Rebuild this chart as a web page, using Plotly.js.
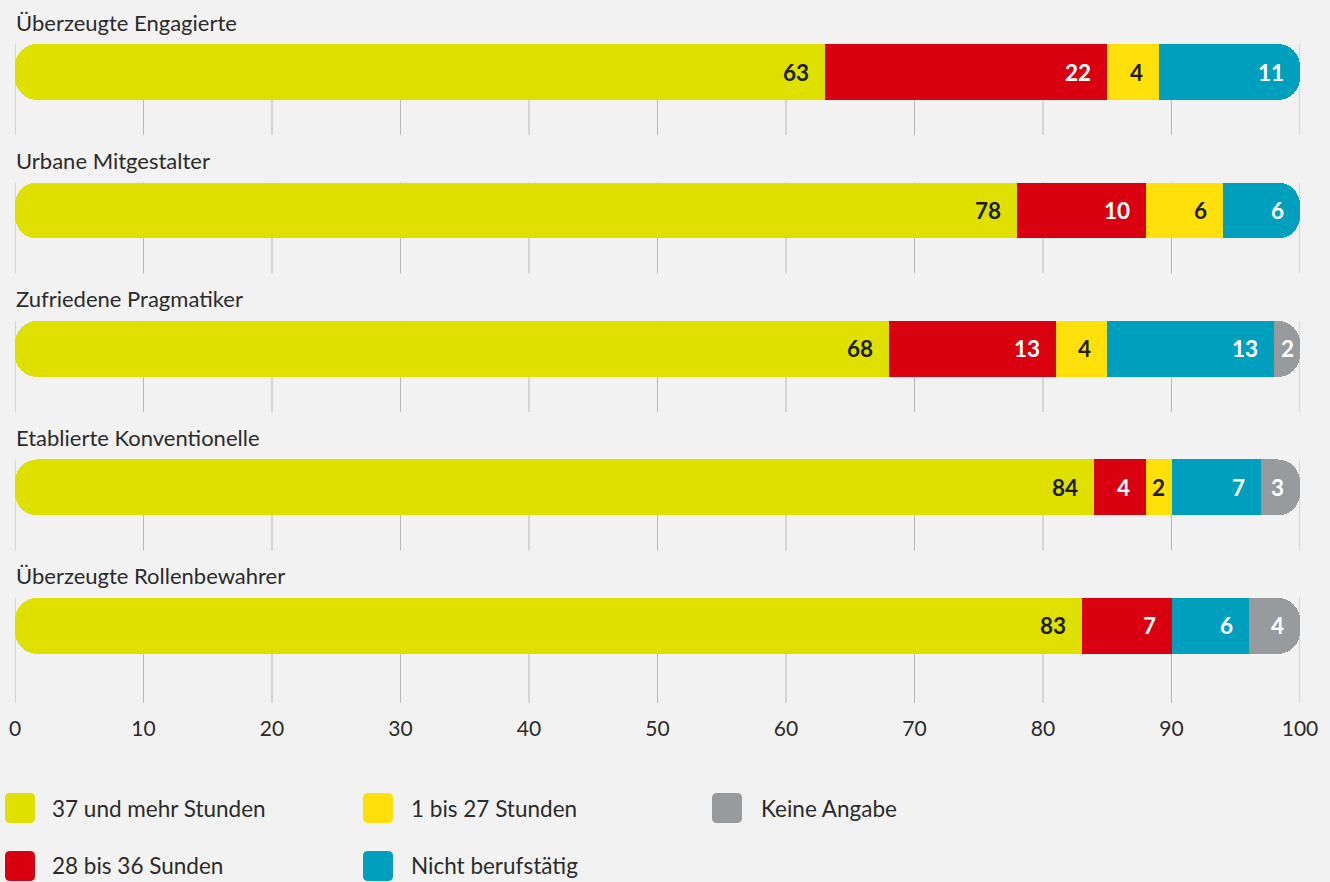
<!DOCTYPE html>
<html><head><meta charset="utf-8">
<script src="https://cdn.plot.ly/plotly-3.0.1.min.js"></script>
<style>html,body{margin:0;padding:0;background:#f2f2f2;} #chart{width:1330px;height:882px;}</style>
</head><body><div id="chart"></div>
<script>
// ---- data ----
const categories = ["Überzeugte Engagierte","Urbane Mitgestalter","Zufriedene Pragmatiker","Etablierte Konventionelle","Überzeugte Rollenbewahrer"];
const seriesNames = ["37 und mehr Stunden","28 bis 36 Sunden","1 bis 27 Stunden","Nicht berufstätig","Keine Angabe"];
const s37 = [63,78,68,84,83];
const s28 = [22,10,13,4,7];
const s1to27 = [4,6,4,2,0];
const sNicht = [11,6,13,7,6];
const sKeine = [0,0,2,3,4];
const xTicks = [0,10,20,30,40,50,60,70,80,90,100];

// ---- styles ----
const colors = ["#e0e000","#d9000f","#ffe00b","#009fbe","#989b9e"];
const labelColors = ["#1d1d1b","#ffffff","#1d1d1b","#ffffff","#ffffff"];
const FONT = "Lato, 'Open Sans', sans-serif";
const series = [s37, s28, s1to27, sNicht, sKeine];

const L = 15, PW = 1285, PH = 709;
const pxX = p => (p - L) / PW;
const pxY = p => (PH - p) / PH;

const traces = [];
// left rounded end: yellow drawn on reversed overlay axis
traces.push({type:'bar', orientation:'h', y:categories, x:s37.map(v=>100-v), xaxis:'x2', yaxis:'y',
  marker:{color:'rgba(0,0,0,0)'}, hoverinfo:'skip', showlegend:false});
traces.push({type:'bar', orientation:'h', y:categories, x:s37, xaxis:'x2', yaxis:'y',
  marker:{color:colors[0]}, name:seriesNames[0], showlegend:false});
// main stack
series.forEach((s,k)=>{
  traces.push({type:'bar', orientation:'h', y:categories, x:s, xaxis:'x', yaxis:'y',
    marker:{color: k===0 ? 'rgba(0,0,0,0)' : colors[k]}, name:seriesNames[k], showlegend:false,
    hoverinfo: k===0 ? 'skip' : 'x+name'});
});

const annotations = [];
const shapes = [];
// value labels
categories.forEach((c,i)=>{
  let cum = 0;
  series.forEach((s,k)=>{
    const v = s[i];
    cum += v;
    if (v <= 0) return;
    const small = v <= 2;
    annotations.push({x: small ? cum - v/2 : cum, y: c, xref:'x', yref:'y',
      xanchor: small ? 'center' : 'right', xshift: small ? 0 : -14, yanchor:'middle',
      text: String(v), showarrow:false,
      font:{family:FONT, size:22.5, color:labelColors[k], weight:700}});
  });
  // category label
  annotations.push({x:0, y:c, xref:'x', yref:'y', xanchor:'left', yanchor:'middle', xshift:-1, yshift:50,
    text:c, showarrow:false, font:{family:FONT, size:22, color:'#2b2b2b'}});
  // grid segments
  xTicks.forEach(t=>{
    shapes.push({type:'line', layer:'below', xref:'x', yref:'y', x0:t, x1:t,
      y0:i-0.202, y1: i + (i===categories.length-1 ? 0.556 : 0.455),
      line:{color:'#b8b8b8', width:1}});
  });
});

// custom legend (column-major, 2 rows)
const colSwatchX = [20, 378, 727];
const colTextLeft = [51, 410, 760];
const rowY = [808, 866];
const rr = "M -10,-15 L 10,-15 Q 15,-15 15,-10 L 15,10 Q 15,15 10,15 L -10,15 Q -15,15 -15,10 L -15,-10 Q -15,-15 -10,-15 Z";
seriesNames.forEach((n,k)=>{
  const col = Math.floor(k/2), row = k%2;
  const py = rowY[row];
  shapes.push({type:'path', xref:'paper', yref:'paper', xsizemode:'pixel', ysizemode:'pixel',
    xanchor: pxX(colSwatchX[col]), yanchor: pxY(py), path: rr, fillcolor: colors[k], line:{width:0}});
  annotations.push({x:pxX(colTextLeft[col]), y:pxY(py), xref:'paper', yref:'paper', xanchor:'left', yanchor:'middle',
    xshift:-1, text:n, showarrow:false, font:{family:FONT, size:22.5, color:'#2b2b2b'}});
});

const layout = {
  width:1330, height:882,
  margin:{l:L, r:1330-L-PW, t:0, b:882-PH},
  paper_bgcolor:'#f2f2f2', plot_bgcolor:'#f2f2f2',
  barmode:'stack', bargap:0.596, barcornerradius:22,
  showlegend:false,
  xaxis:{range:[0,100], tickvals:xTicks, showgrid:false, zeroline:false, showline:false, ticks:'',
    ticklabelstandoff:5,
    tickfont:{family:FONT, size:21, color:'#2b2b2b'}, fixedrange:true},
  xaxis2:{range:[100,0], overlaying:'x', visible:false, fixedrange:true},
  yaxis:{type:'category', categoryarray:categories, range:[4.6,-0.52], showgrid:false, zeroline:false,
    showticklabels:false, ticks:'', fixedrange:true},
  annotations, shapes,
  font:{family:FONT}
};
Plotly.newPlot('chart', traces, layout, {displayModeBar:false, staticPlot:true});
</script></body></html>
